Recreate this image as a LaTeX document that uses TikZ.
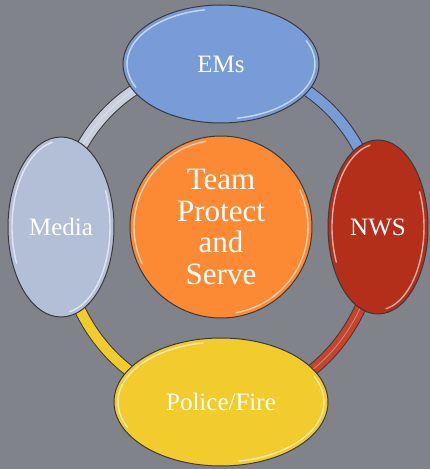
\documentclass[tikz,border=0pt]{standalone}
\usepackage{fontspec}
\setmainfont{Liberation Serif}
\usetikzlibrary{backgrounds,calc,positioning,shapes.geometric}

\definecolor{slate}{HTML}{80838A}
\definecolor{rim}{HTML}{3A3A3C}
\definecolor{emsblue}{HTML}{779CD8}
\definecolor{nwsred}{HTML}{B42F1A}
\definecolor{copyellow}{HTML}{F2CB2D}
\definecolor{mediagray}{HTML}{B3BED7}
\definecolor{ringlight}{HTML}{C9CFDD}
\definecolor{ringred}{HTML}{C6442B}
\definecolor{teamorange}{HTML}{FC8A35}

\tikzset{
  gloss/.style={path picture={\draw[white,opacity=.6,line width=1.4pt,line cap=round]
      let \p1=($(path picture bounding box.north east)-(path picture bounding box.center)$),
          \n1={\x1-4pt}, \n2={\y1-4pt}
      in ([shift={(100:\n1 and \n2)}]path picture bounding box.center)
           arc[start angle=100, end angle=205, x radius=\n1, y radius=\n2]
         ([shift={(-80:\n1 and \n2)}]path picture bounding box.center)
           arc[start angle=-80, end angle=25, x radius=\n1, y radius=\n2];}},
  party/.style={ellipse, draw=rim, line width=1pt, fill=#1, text=white,
    inner sep=0pt, gloss, font=\fontsize{25}{25}\selectfont},
  ring/.style={draw=rim, line width=1pt, double=#1, double distance=10pt},
  shine/.style={white, opacity=.35, line width=.8pt},
}

\begin{document}
\begin{tikzpicture}[x=1pt,y=1pt,node distance=160pt,on grid]
    \useasboundingbox (0,0) rectangle (430,469);

    \node[circle, draw=rim, line width=1pt, fill=teamorange, text=white,
      minimum size=182pt, inner sep=0pt, gloss, align=center,
      font=\fontsize{31}{31.5}\selectfont] (team) at (221,242)
      {Team\\Protect\\and\\Serve};
    \node[party=emsblue, minimum width=196pt, minimum height=118pt]
      (ems) [above=163pt of team] {EMs};
    \node[party=nwsred, minimum width=100pt, minimum height=174pt]
      (nws) [right=157pt of team] {NWS};
    \node[party=copyellow, minimum width=214pt, minimum height=128pt]
      (police) [below=175pt of team] {Police/Fire};
    \node[party=mediagray, minimum width=106pt, minimum height=180pt]
      (media) [left=160pt of team] {Media};

    % the ring runs behind the ellipses
    \begin{pgfonlayer}{background}
      \fill[slate] (0,0) rectangle (430,469);
      \draw[ring=emsblue]    (ems.center)    to[out=0,in=90]    (nws.center);
      \draw[ring=ringred]    (nws.center)    to[out=-90,in=0]   (police.center);
      \draw[ring=copyellow]  (police.center) to[out=180,in=-90] (media.center);
      \draw[ring=ringlight]  (media.center)  to[out=90,in=180]  (ems.center);
      \draw[shine] (nws.center)   to[out=-90,in=0]  (police.center);
      \draw[shine] (media.center) to[out=90,in=180] (ems.center);
    \end{pgfonlayer}
  \end{tikzpicture}
\end{document}
